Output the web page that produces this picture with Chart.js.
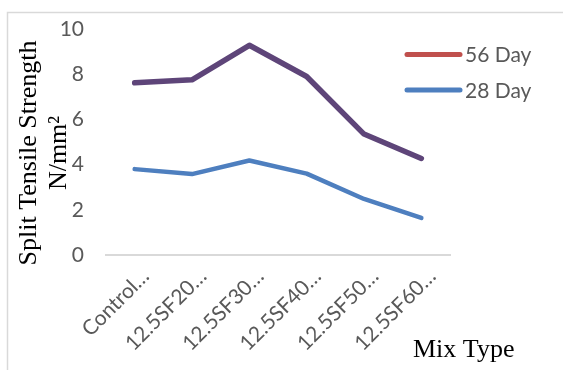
<!DOCTYPE html>
<html>
<head>
<meta charset="utf-8">
<script src="https://cdn.jsdelivr.net/npm/chart.js@4.4.1/dist/chart.umd.min.js"></script>
<style>
  html, body { margin: 0; padding: 0; background: #ffffff; }
  #wrap { width: 563px; height: 370px; position: relative; }
</style>
</head>
<body>
<div id="wrap"><canvas id="chart" width="563" height="370"></canvas></div>
<script>
// Mix types along the x axis (labels are shown shortened)
const mixTypes = ['Control…', '12.5SF20…', '12.5SF30…', '12.5SF40…', '12.5SF50…', '12.5SF60…'];
// Split tensile strength, N/mm²
const strength56Day = [7.62, 7.75, 9.28, 7.9, 5.35, 4.27];
const strength28Day = [3.8, 3.58, 4.18, 3.6, 2.48, 1.64];
// Value-axis ticks
const yTicks = [0, 2, 4, 6, 8, 10];

const seriesNames = ['56 Day', '28 Day'];
const lineColors = ['#5E4579', '#4E7FBF'];
const legendColors = ['#C0504D', '#4E7FBF'];

const tickFont = { family: 'Lato, "Open Sans", sans-serif', size: 21 };
const serif = '"Liberation Serif", "Times New Roman", serif';

// Frame, legend and axis titles drawn on the canvas
const decorations = {
  id: 'decorations',
  beforeDraw(chart) {
    const ctx = chart.ctx;
    ctx.save();
    ctx.fillStyle = '#ffffff';
    ctx.fillRect(0, 0, chart.width, chart.height);
    ctx.strokeStyle = '#D9D9D9';
    ctx.lineWidth = 1.5;
    ctx.strokeRect(7.5, 12.5, chart.width + 20, chart.height + 20);
    ctx.restore();
  },
  afterDraw(chart) {
    const ctx = chart.ctx;
    ctx.save();
    // legend
    const lx0 = 407, lx1 = 460, ly = [54.5, 90];
    chart.data.datasets.forEach((ds, i) => {
      ctx.strokeStyle = legendColors[i];
      ctx.lineWidth = 5;
      ctx.lineCap = 'round';
      ctx.beginPath();
      ctx.moveTo(lx0, ly[i]);
      ctx.lineTo(lx1, ly[i]);
      ctx.stroke();
      ctx.fillStyle = '#595959';
      ctx.font = `${tickFont.size}px ${tickFont.family}`;
      ctx.textBaseline = 'middle';
      ctx.textAlign = 'left';
      ctx.fillText(ds.label, 465, ly[i] + 1);
    });
    // y axis title (two lines)
    ctx.fillStyle = '#000000';
    ctx.font = `26px ${serif}`;
    ctx.textAlign = 'center';
    ctx.textBaseline = 'alphabetic';
    ctx.translate(0, 153);
    ctx.rotate(-Math.PI / 2);
    ctx.fillText('Split Tensile Strength', 0, 36);
    ctx.fillText('N/mm²', 0, 66);
    ctx.restore();
    // x axis title
    ctx.save();
    ctx.fillStyle = '#000000';
    ctx.font = `26px ${serif}`;
    ctx.textAlign = 'left';
    ctx.textBaseline = 'alphabetic';
    ctx.fillText('Mix Type', 413, 357);
    ctx.restore();
  }
};

new Chart(document.getElementById('chart'), {
  type: 'line',
  data: {
    labels: mixTypes,
    datasets: [
      {
        label: seriesNames[0],
        data: strength56Day,
        borderColor: lineColors[0],
        borderWidth: 5.5,
        pointRadius: 0,
        tension: 0,
        borderCapStyle: 'round',
        borderJoinStyle: 'round'
      },
      {
        label: seriesNames[1],
        data: strength28Day,
        borderColor: lineColors[1],
        borderWidth: 4.5,
        pointRadius: 0,
        tension: 0,
        borderCapStyle: 'round',
        borderJoinStyle: 'round'
      }
    ]
  },
  options: {
    responsive: false,
    animation: false,
    devicePixelRatio: 1,
    layout: { padding: { top: 29, right: 113, bottom: 0, left: 0 } },
    plugins: {
      legend: { display: false },
      tooltip: { enabled: false }
    },
    scales: {
      x: {
        offset: true,
        grid: { display: false, drawTicks: false },
        border: { display: true, color: '#D9D9D9', width: 2 },
        ticks: {
          color: '#595959',
          font: tickFont,
          maxRotation: 45,
          minRotation: 45,
          padding: 9,
          labelOffset: 11,
          autoSkip: false
        },
        afterFit(scale) { scale.height = 115; }
      },
      y: {
        min: 0,
        max: 10,
        afterBuildTicks(scale) { scale.ticks = yTicks.map(v => ({ value: v })); },
        grid: { display: false, drawTicks: false },
        border: { display: false },
        ticks: {
          color: '#595959',
          font: { family: tickFont.family, size: tickFont.size, lineHeight: 0.5 },
          padding: 22
        },
        afterFit(scale) { scale.width = 106; }
      }
    }
  },
  plugins: [decorations]
});
</script>
</body>
</html>
